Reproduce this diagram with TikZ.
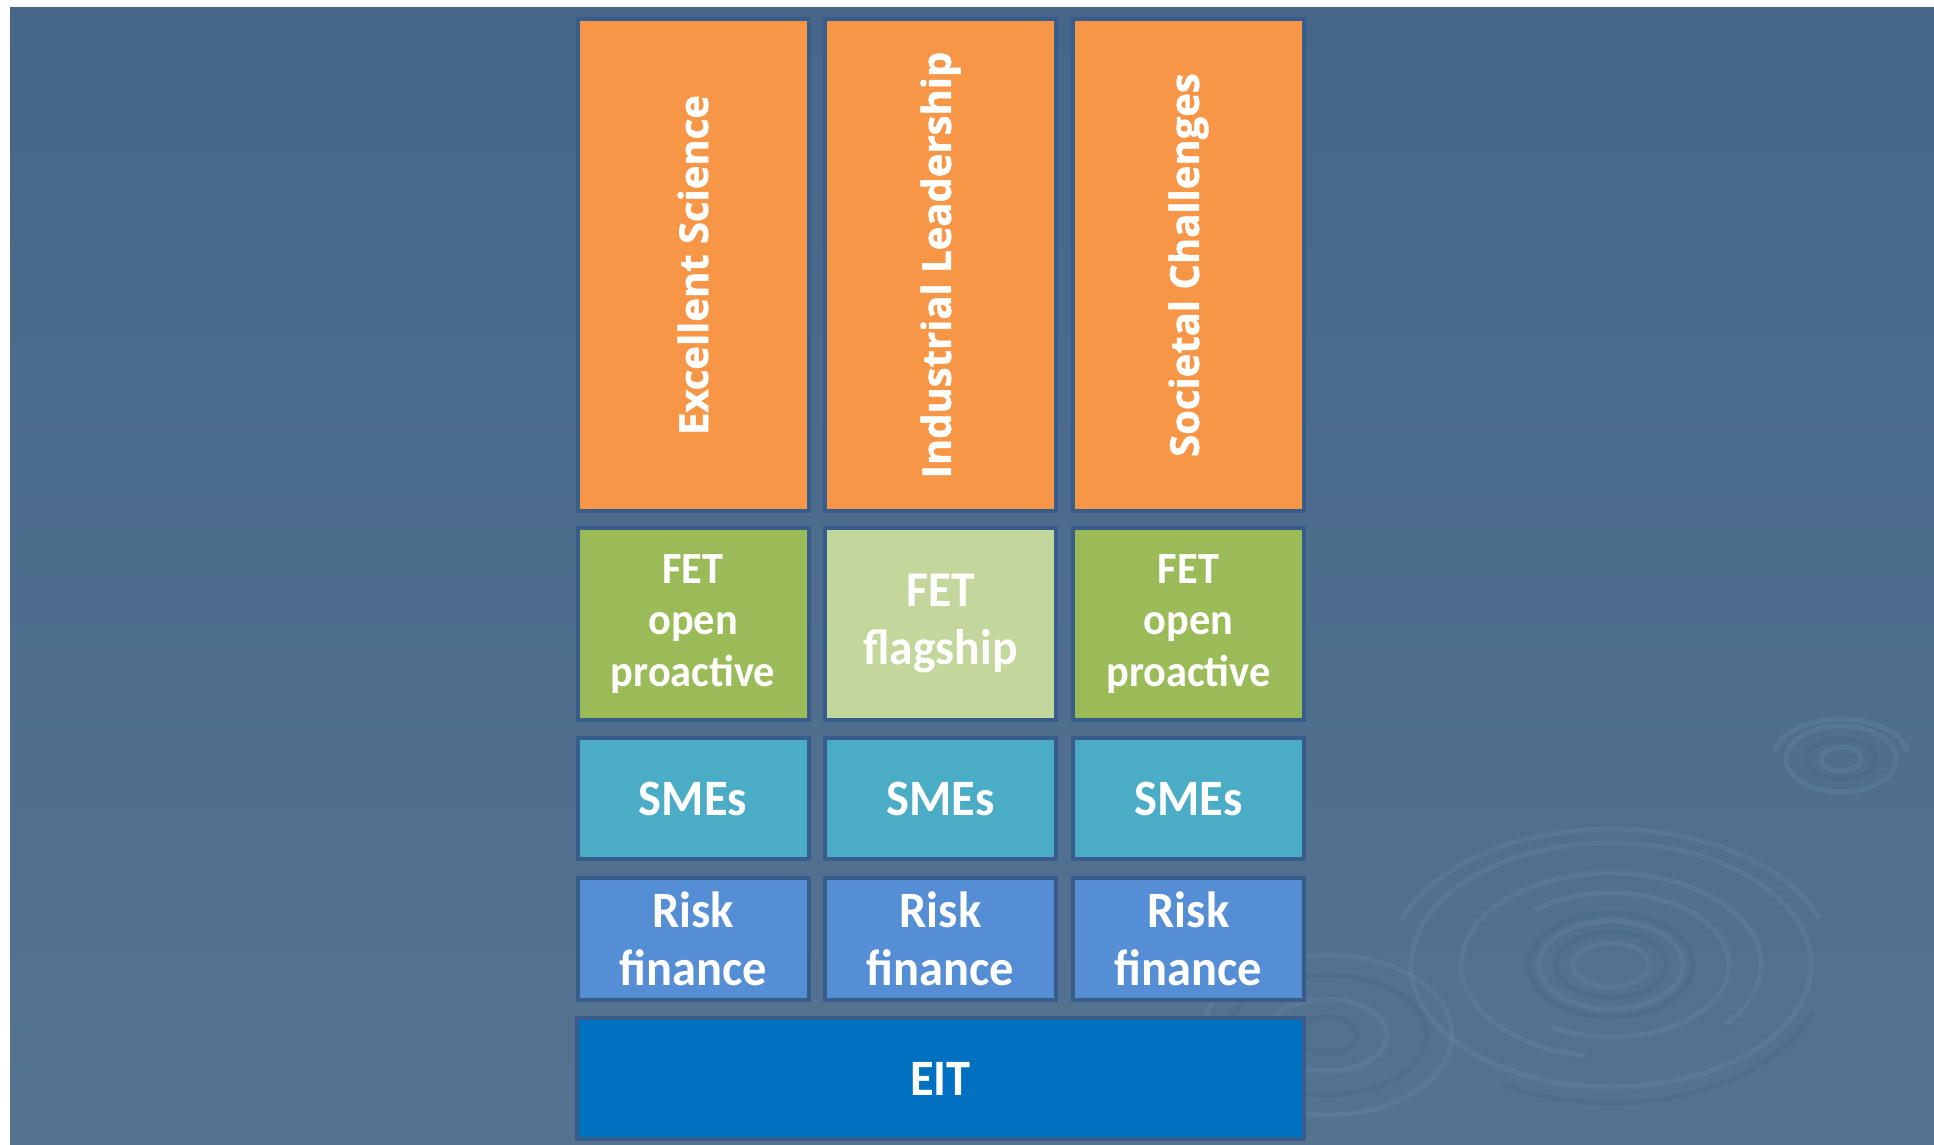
\documentclass[tikz,border=0pt]{standalone}
\usepackage{fontspec}
\setmainfont{Carlito}
\newfontfamily\opensans{Open Sans}[UprightFont=* Bold, FakeBold=1.2]
\definecolor{bgtop}{HTML}{46678A}
\definecolor{bgbot}{HTML}{557391}
\definecolor{cellborder}{HTML}{385D8A}
\definecolor{orangec}{HTML}{F79646}
\definecolor{greenc}{HTML}{9BBB59}
\definecolor{lgreenc}{HTML}{C3D69B}
\definecolor{tealc}{HTML}{4BACC6}
\definecolor{bluec}{HTML}{558ED5}
\definecolor{eitc}{HTML}{0070C0}
\definecolor{ripl}{HTML}{6A8AAA}
\definecolor{ripd}{HTML}{3F5F80}
\tikzset{
  cell/.style={draw=cellborder, line width=4pt, inner sep=0pt, minimum width=231pt},
  pillartext/.style={text=white, rotate=90, inner sep=0pt, font={\opensans\fontsize{40}{48}\selectfont}},
  celltext/.style={text=white, inner sep=0pt, align=center, xscale=0.95},
  ripa/.style={draw=ripl, line width=5pt, opacity=0.3},
  ripb/.style={draw=ripd, line width=5pt, opacity=0.22},
}
\begin{document}
\begin{tikzpicture}[x=1pt,y=-1pt]
\useasboundingbox (0,0) rectangle (1934,1144);
\shade[top color=bgtop, bottom color=bgbot] (10,7) rectangle (1934,1144);
% ripples
\draw[ripa] (1611,965) ellipse [x radius=38, y radius=22];
\draw[ripb] (1611,965) ellipse [x radius=55, y radius=33];
\draw[ripa] (1611,965) ellipse [x radius=72, y radius=44];
\draw[ripb] (1611,965) ellipse [x radius=82, y radius=52];
\draw[ripa] (1611,965) ++(230:118 and 72) arc[start angle=230, end angle=480, x radius=118, y radius=72];
\draw[ripa] (1611,965) ++(100:150 and 92) arc[start angle=100, end angle=400, x radius=150, y radius=92];
\draw[ripa] (1611,965) ellipse [x radius=200, y radius=122];
\draw[ripa] (1611,965) ++(200:222 and 136) arc[start angle=200, end angle=340, x radius=222, y radius=136];
\draw[ripb] (1611,965) ++(20:215 and 138) arc[start angle=20, end angle=120, x radius=215, y radius=138];
\draw[ripa] (1841,759) ellipse [x radius=20, y radius=12];
\draw[ripb] (1841,759) ellipse [x radius=35, y radius=20];
\draw[ripa] (1841,759) ellipse [x radius=55, y radius=33];
\draw[ripa] (1841,759) ++(190:68 and 40) arc[start angle=190, end angle=350, x radius=68, y radius=40];
\draw[ripb] (1327,1035) ellipse [x radius=30, y radius=18];
\draw[ripa] (1327,1035) ellipse [x radius=60, y radius=36];
\draw[ripb] (1327,1035) ellipse [x radius=100, y radius=60];
\draw[ripa] (1327,1035) ellipse [x radius=125, y radius=80];
% pillars
\node[cell, fill=orangec, minimum height=492pt] (es) at (693,265) {};
\node[cell, fill=orangec, minimum height=492pt] (il) at (940.5,265) {};
\node[cell, fill=orangec, minimum height=492pt] (sc) at (1188.5,265) {};
\node[pillartext] (est) at (es.center) {Excellent Science};
\node[pillartext] (ilt) at (il.center) {Industrial Leadership};
\node[pillartext] (sct) at (sc.center) {Societal Challenges};
% FET row
\node[cell, fill=greenc, minimum height=192pt] (f1) at (693,624) {};
\node[cell, fill=lgreenc, minimum height=192pt] (f2) at (940.5,624) {};
\node[cell, fill=greenc, minimum height=192pt] (f3) at (1188.5,624) {};
\node[celltext, font={\fontsize{44.6}{51.4}\selectfont\bfseries}] (f1t) at (f1.center) {FET\\open\\proactive};
\node[celltext, font={\fontsize{50}{58}\selectfont\bfseries}] (f2t) at (f2.center) {FET\\flagship};
\node[celltext, font={\fontsize{44.6}{51.4}\selectfont\bfseries}] (f3t) at (f3.center) {FET\\open\\proactive};
% SMEs row
\node[cell, fill=tealc, minimum height=121pt] (s1) at (693,798.5) {};
\node[cell, fill=tealc, minimum height=121pt] (s2) at (940.5,798.5) {};
\node[cell, fill=tealc, minimum height=121pt] (s3) at (1188.5,798.5) {};
\node[celltext, font={\fontsize{51}{58}\selectfont\bfseries}] (s1t) at (s1.center) {SMEs};
\node[celltext, font={\fontsize{51}{58}\selectfont\bfseries}] (s2t) at (s2.center) {SMEs};
\node[celltext, font={\fontsize{51}{58}\selectfont\bfseries}] (s3t) at (s3.center) {SMEs};
% Risk row
\node[cell, fill=bluec, minimum height=122pt] (r1) at (693,939) {};
\node[cell, fill=bluec, minimum height=122pt] (r2) at (940.5,939) {};
\node[cell, fill=bluec, minimum height=122pt] (r3) at (1188.5,939) {};
\node[celltext, font={\fontsize{51}{57.5}\selectfont\bfseries}] (r1t) at (r1.center) {Risk\\finance};
\node[celltext, font={\fontsize{51}{57.5}\selectfont\bfseries}] (r2t) at (r2.center) {Risk\\finance};
\node[celltext, font={\fontsize{51}{57.5}\selectfont\bfseries}] (r3t) at (r3.center) {Risk\\finance};
% EIT
\node[cell, fill=eitc, minimum width=727pt, minimum height=121pt] (eit) at (940.5,1078.5) {};
\node[celltext, font={\fontsize{51}{58}\selectfont\bfseries}] (eitt) at (eit.center) {EIT};
\end{tikzpicture}
\end{document}
